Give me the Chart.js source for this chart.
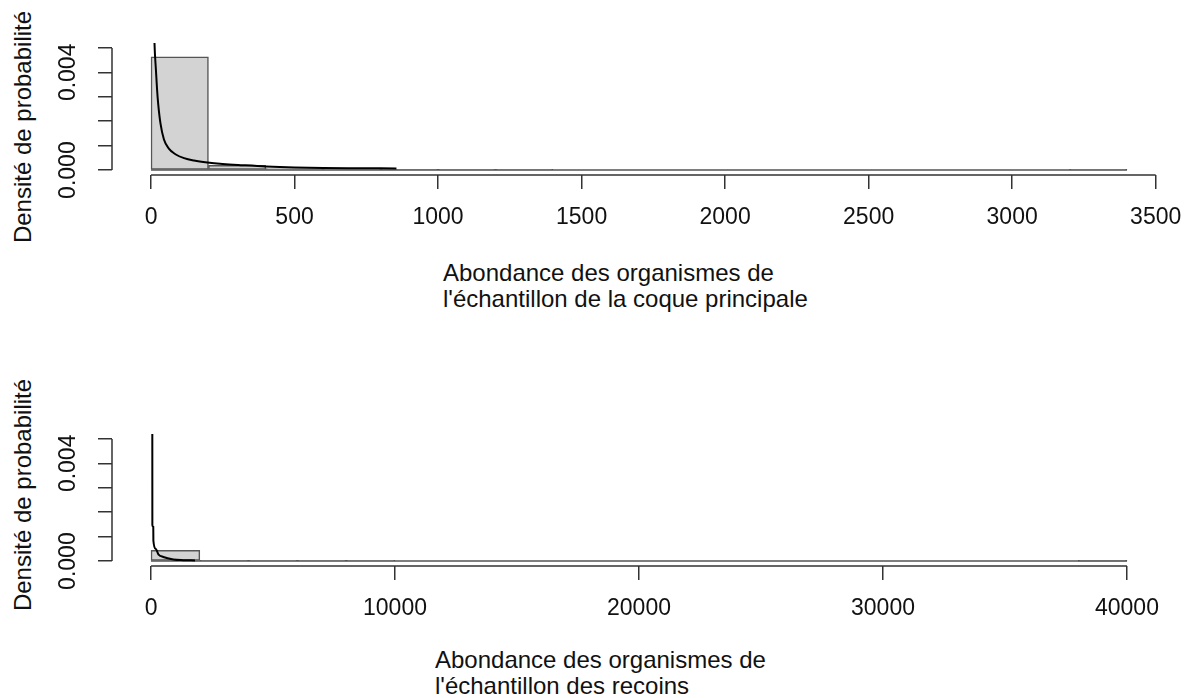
<!DOCTYPE html>
<html lang="fr">
<head>
<meta charset="UTF-8">
<title>Densité de probabilité</title>
<script src="https://cdn.jsdelivr.net/npm/chart.js"></script>
<style>
  body { margin: 0; background: #fff; font-family: "Liberation Sans", Arial, sans-serif; color: #111; }
  #page { position: relative; width: 1188px; height: 698px; overflow: hidden; }
  canvas { position: absolute; left: 0; }
  .ylab { position: absolute; width: 300px; height: 28px; line-height: 28px; font-size: 24px;
          text-align: center; transform: rotate(-90deg); white-space: nowrap; }
  .xlab { position: absolute; font-size: 24px; line-height: 26px; white-space: nowrap; }
</style>
</head>
<body>
<div id="page">
  <div class="ylab" style="left:-127px; top:113px;">Densité de probabilité</div>
  <canvas id="topChart" width="1188" height="240" style="top:0"></canvas>
  <div class="xlab" style="left:443px; top:260px;">Abondance des organismes de<br>l'échantillon de la coque principale</div>

  <div class="ylab" style="left:-127px; top:481px;">Densité de probabilité</div>
  <canvas id="bottomChart" width="1188" height="240" style="top:391px"></canvas>
  <div class="xlab" style="left:435px; top:647px;">Abondance des organismes de<br>l'échantillon des recoins</div>
</div>

<script>
// y axis (same for both panels)
const yTicks = [0, 0.001, 0.002, 0.003, 0.004, 0.005];
const yTickLabels = ['0.000', '', '', '', '0.004', ''];

// top panel: coque principale
const topBreaks = [0, 200, 400, 600, 800, 1000, 1200, 1400, 1600, 1800, 2000,
                   2200, 2400, 2600, 2800, 3000, 3200, 3400];
const topDensity = [0.00463, 0.00020, 0.00006, 0.00004, 0.00002, 0.00001, 0.00001, 0, 0,
                    0, 0, 0, 0, 0, 0, 0, 0.000003];
const topCurveX = [9, 12, 17, 21, 25, 33, 45, 62, 85, 115, 150, 196, 250, 320, 400, 500, 600, 700, 855];
const topCurveY = [0.0068, 0.0052, 0.0041, 0.0033, 0.0027, 0.0019, 0.00125, 0.00088, 0.00065, 0.00049,
                   0.00039, 0.00031, 0.00025, 0.00020, 0.00015, 0.00011, 0.00009, 0.00008, 0.00007];
const topXTicks = [0, 500, 1000, 1500, 2000, 2500, 3000, 3500];
const topXTickLabels = ['0', '500', '1000', '1500', '2000', '2500', '3000', '3500'];

// bottom panel: recoins
const bottomBreaks = [0, 2000, 4000, 6000, 8000, 10000, 12000, 14000, 16000, 18000, 20000,
                      22000, 24000, 26000, 28000, 30000, 32000, 34000, 36000, 38000, 40000];
const bottomDensity = [0.00044, 0.00002, 0.00001, 0.000005, 0.000003, 0, 0, 0, 0, 0,
                       0, 0, 0, 0, 0, 0, 0, 0, 0, 0.000002];
const bottomCurveX = [52, 54, 92, 96, 193, 300, 504, 914, 1300, 1803];
const bottomCurveY = [0.0065, 0.00147, 0.0014, 0.00084, 0.0005, 0.00028, 0.00017, 0.00007, 0.00004, 0.00003];
const bottomXTicks = [0, 10000, 20000, 30000, 40000];
const bottomXTickLabels = ['0', '10000', '20000', '30000', '40000'];

const fontFamily = '"Liberation Sans", Arial, sans-serif';
const textColor = '#111';
const axisColor = '#333';
const barBorder = '#555';

// draws the R-style axis lines, only between first and last tick
const rAxes = {
    id: 'rAxes',
    afterDraw(chart) {
        const { ctx, chartArea, scales: { x, y } } = chart;
        const xt = x.ticks, yt = y.ticks;
        ctx.save();
        ctx.strokeStyle = axisColor;
        ctx.lineWidth = 1.5;
        ctx.beginPath();
        ctx.moveTo(x.getPixelForValue(xt[0].value), chartArea.bottom);
        ctx.lineTo(x.getPixelForValue(xt[xt.length - 1].value), chartArea.bottom);
        ctx.moveTo(chartArea.left, y.getPixelForValue(yt[0].value));
        ctx.lineTo(chartArea.left, y.getPixelForValue(yt[yt.length - 1].value));
        ctx.stroke();
        ctx.restore();
    }
};

function makeHist(id, breaks, density, curveX, curveY, xTicks, xTickLabels) {
    const bins = density.map((d, i) => ({ x: (breaks[i] + breaks[i + 1]) / 2, y: d }));
    const curve = curveX.map((v, i) => ({ x: v, y: curveY[i] }));
    const last = breaks[breaks.length - 1];
    const xExt = (last - breaks[0]) * 0.04;
    const yExt = (yTicks[yTicks.length - 1] - yTicks[0]) * 0.04;

    return new Chart(document.getElementById(id), {
        type: 'bar',
        data: {
            datasets: [
                {
                    type: 'line', data: curve, borderColor: '#000', borderWidth: 2,
                    pointRadius: 0, cubicInterpolationMode: 'monotone', order: 0
                },
                {
                    type: 'line', data: [{ x: breaks[0], y: 0 }, { x: last, y: 0 }],
                    borderColor: barBorder, borderWidth: 1.5, pointRadius: 0, order: 1
                },
                {
                    type: 'bar', data: bins, backgroundColor: '#d3d3d3', borderColor: barBorder,
                    borderWidth: 1.5, borderSkipped: false, barPercentage: 1, categoryPercentage: 1, order: 2
                }
            ]
        },
        options: {
            responsive: false,
            animation: false,
            devicePixelRatio: 1,
            layout: { padding: { top: 43, right: 22, left: 0, bottom: 0 } },
            plugins: { legend: { display: false }, tooltip: { enabled: false } },
            scales: {
                x: {
                    type: 'linear',
                    min: breaks[0] - xExt,
                    max: last + xExt,
                    offset: false,
                    afterBuildTicks: s => { s.ticks = xTicks.map(v => ({ value: v })); },
                    afterFit: s => { s.height = 65; s.paddingLeft = 0; s.paddingRight = 0; },
                    border: { display: false },
                    grid: { offset: false, drawOnChartArea: false, drawTicks: true, tickLength: 14,
                            color: axisColor, lineWidth: 1.5 },
                    ticks: {
                        autoSkip: false, maxRotation: 0, padding: 15, color: textColor,
                        font: { family: fontFamily, size: 23 },
                        callback: (v, i) => xTickLabels[i]
                    }
                },
                y: {
                    type: 'linear',
                    min: yTicks[0] - yExt,
                    max: yTicks[yTicks.length - 1] + yExt,
                    afterBuildTicks: s => { s.ticks = yTicks.map(v => ({ value: v })); },
                    afterFit: s => { s.width = 112; s.paddingTop = 0; s.paddingBottom = 0; },
                    border: { display: false },
                    grid: { drawOnChartArea: false, drawTicks: true, tickLength: 14,
                            color: axisColor, lineWidth: 1.5 },
                    ticks: {
                        autoSkip: false, minRotation: 90, maxRotation: 90, crossAlign: 'center',
                        padding: 1, color: textColor,
                        font: { family: fontFamily, size: 23 },
                        callback: (v, i) => yTickLabels[i]
                    }
                }
            }
        },
        plugins: [rAxes]
    });
}

makeHist('topChart', topBreaks, topDensity, topCurveX, topCurveY, topXTicks, topXTickLabels);
makeHist('bottomChart', bottomBreaks, bottomDensity, bottomCurveX, bottomCurveY, bottomXTicks, bottomXTickLabels);
</script>
</body>
</html>
